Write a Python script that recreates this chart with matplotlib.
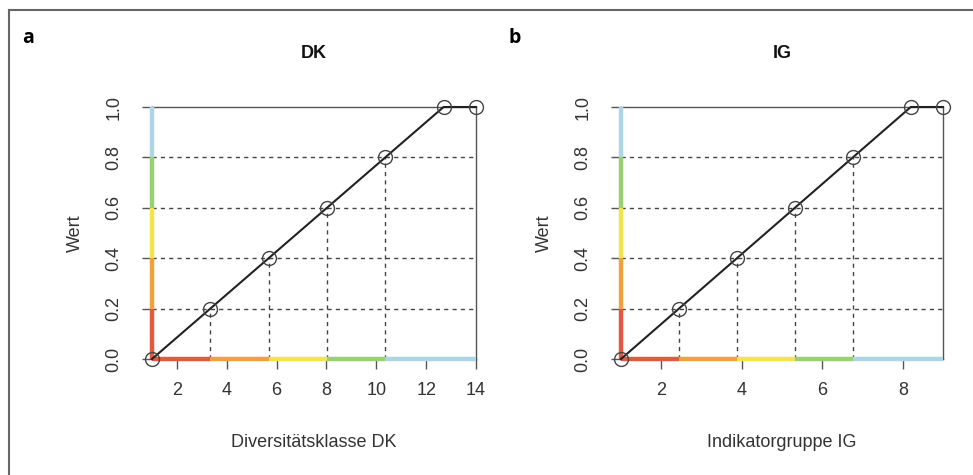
import matplotlib
matplotlib.use('Agg')
import matplotlib.pyplot as plt
from matplotlib.lines import Line2D

plt.rcParams['font.family'] = ['Liberation Sans', 'DejaVu Sans']

# class breaks
dk_x = [1, 3.34, 5.68, 8.02, 10.36, 12.7, 14]
ig_x = [1, 2.44, 3.88, 5.32, 6.76, 8.2, 9]
wert = [0.0, 0.2, 0.4, 0.6, 0.8, 1.0, 1.0]

dk_ticks = [2, 4, 6, 8, 10, 12, 14]
ig_ticks = [2, 4, 6, 8]
y_ticks = [0.0, 0.2, 0.4, 0.6, 0.8, 1.0]

class_cols = ['#e4583f', '#eea23a', '#f3e44a', '#98d072', '#acd6e8']

frame_col = '#555555'
fs = 13


def draw_panel(ax, xs, ys, xticks, title, xlabel):
    xmin, xmax = xs[0], xs[-1]
    ax.set_xlim(xmin, xmax)
    ax.set_ylim(0, 1)

    # dashed guides
    for xv, yv in zip(xs[1:5], ys[1:5]):
        ax.plot([xmin, xmax], [yv, yv], ls=(0, (3, 3)), color='#444444', lw=1.0, zorder=1)
        ax.plot([xv, xv], [0, yv], ls=(0, (3, 3)), color='#444444', lw=1.0, zorder=1)

    # coloured class bands along both axes
    xb = xs[:5] + [xmax]
    yb = ys[:5] + [1.0]
    for i, c in enumerate(class_cols):
        ax.plot([xb[i], xb[i + 1]], [0, 0], color=c, lw=3.2, zorder=2.7,
                clip_on=False, solid_capstyle='butt')
        ax.plot([xmin, xmin], [yb[i], yb[i + 1]], color=c, lw=3.2, zorder=2.7,
                clip_on=False, solid_capstyle='butt')

    ax.plot(xs, ys, color='#222222', lw=1.5, zorder=3, clip_on=False)
    ax.plot(xs, ys, ls='none', marker='o', ms=10, mfc='none', mec='#444444',
            mew=1.0, zorder=4, clip_on=False)

    for s in ax.spines.values():
        s.set_color(frame_col)
        s.set_linewidth(1.0)

    ax.set_xticks(xticks)
    ax.set_xticklabels([str(t) for t in xticks])
    ax.set_yticks(y_ticks)
    ax.set_yticklabels([f'{t:.1f}' for t in y_ticks], rotation=90, va='center')
    ax.tick_params(axis='both', direction='out', length=7.5, width=1.0,
                   color=frame_col, labelsize=fs, labelcolor='#333333')
    ax.tick_params(axis='x', pad=9)
    ax.tick_params(axis='y', pad=14)

    ax.set_title(title, fontsize=fs, fontweight='bold', pad=35, color='#111111')
    ax.set_xlabel(xlabel, fontsize=fs, labelpad=25, color='#333333')
    ax.set_ylabel('Wert', fontsize=fs, labelpad=15, color='#333333')


fig = plt.figure(figsize=(9.73, 4.75), dpi=100)

ax_a = fig.add_axes([152 / 973, 1 - 359 / 475, 324 / 973, 252 / 475])
ax_b = fig.add_axes([621 / 973, 1 - 359 / 475, 322 / 973, 252 / 475])

draw_panel(ax_a, dk_x, wert, dk_ticks, 'DK', 'Diversitätsklasse DK')
draw_panel(ax_b, ig_x, wert, ig_ticks, 'IG', 'Indikatorgruppe IG')

fig.text(22 / 973, 1 - 38 / 475, 'a', fontsize=14, fontweight='bold',
         family=['Open Sans', 'DejaVu Sans'], va='center')
fig.text(509 / 973, 1 - 38 / 475, 'b', fontsize=14, fontweight='bold',
         family=['Open Sans', 'DejaVu Sans'], va='center')

# outer frame of the figure panel
fig.add_artist(Line2D([9 / 973, 9 / 973], [0, 1 - 10 / 475], color='#666666', lw=1.5,
                      transform=fig.transFigure))
fig.add_artist(Line2D([9 / 973, 1], [1 - 10 / 475, 1 - 10 / 475], color='#666666', lw=1.5,
                      transform=fig.transFigure))

fig.savefig('out.png', dpi=100)
